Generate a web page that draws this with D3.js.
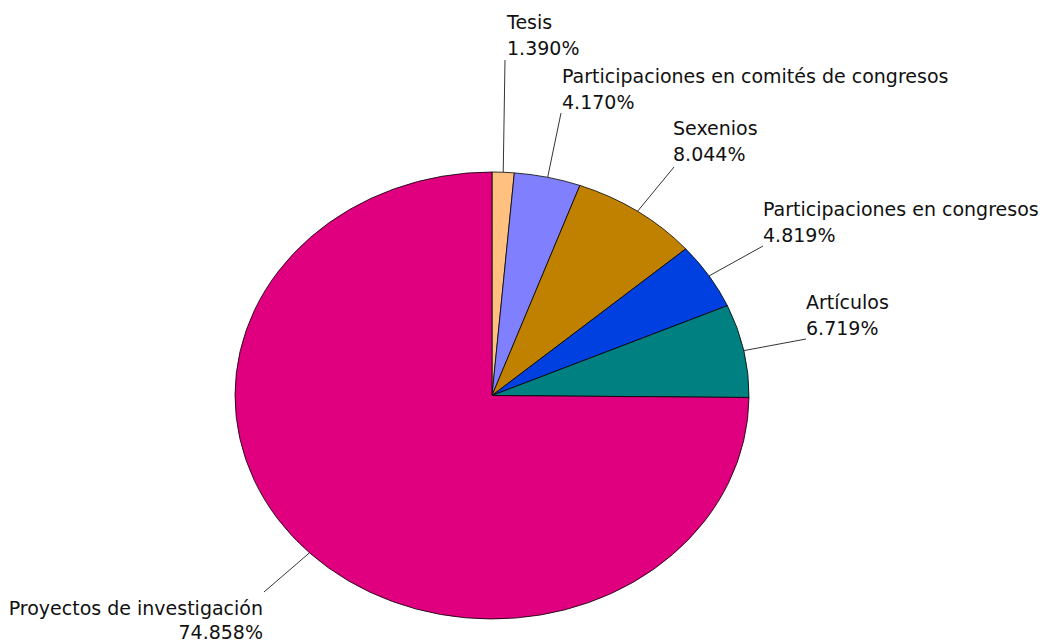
<!DOCTYPE html>
<html><head><meta charset="utf-8">
<script src="https://cdn.jsdelivr.net/npm/d3@7"></script>
<style>body{margin:0;background:#fff}svg{display:block}</style>
</head><body>
<svg id="chart" width="1042" height="641"></svg>
<script>
const categories = ["Tesis","Participaciones en comités de congresos","Sexenios","Participaciones en congresos","Artículos","Proyectos de investigación"];
const values = [1.390, 4.170, 8.044, 4.819, 6.719, 74.858];
const labels = ["1.390%","4.170%","8.044%","4.819%","6.719%","74.858%"];
const colors = ["#FFC080","#8080FF","#C08000","#0040E0","#008080","#E0007F"];

// layout: label anchor (x, first baseline), line gap, text anchor, leader end
const labelLayout = [
  {x:507, y:29, gap:26, anchor:"start", lx:505, ly:60},
  {x:562, y:83, gap:26, anchor:"start", lx:561, ly:113},
  {x:673, y:135, gap:26, anchor:"start", lx:674, ly:167},
  {x:763, y:216, gap:26, anchor:"start", lx:763, ly:246},
  {x:806, y:309, gap:26, anchor:"start", lx:806, ly:339},
  {x:263, y:615, gap:24, anchor:"end", lx:264, ly:592}
];

const cx = 492, cy = 395.5, rx = 257, ry = 223.5;
const svg = d3.select("#chart");
const pie = d3.pie().sort(null).value(d => d)(values);
const arc = d3.arc().innerRadius(0).outerRadius(1);

const g = svg.append("g").attr("transform", `translate(${cx},${cy}) scale(${rx},${ry})`);
g.selectAll("path").data(pie).join("path")
  .attr("d", arc)
  .attr("fill", (d,i) => colors[i])
  .attr("stroke", "#000")
  .attr("stroke-width", 0.8)
  .attr("vector-effect", "non-scaling-stroke");

// leader lines
pie.forEach((d,i) => {
  const a = (d.startAngle + d.endAngle) / 2;
  const ex = cx + rx * Math.sin(a), ey = cy - ry * Math.cos(a);
  const L = labelLayout[i];
  svg.append("line").attr("x1", ex).attr("y1", ey).attr("x2", L.lx).attr("y2", L.ly)
    .attr("stroke", "#000").attr("stroke-width", 0.8);
});

const tg = svg.append("g").attr("font-family", "Tahoma, 'DejaVu Sans', sans-serif").attr("font-size", 19).attr("fill", "#111");
categories.forEach((c,i) => {
  const L = labelLayout[i];
  const t = tg.append("text").attr("x", L.x).attr("y", L.y).attr("text-anchor", L.anchor);
  t.append("tspan").attr("x", L.x).text(c);
  t.append("tspan").attr("x", L.x).attr("dy", L.gap).text(labels[i]);
});
</script>
</body></html>
